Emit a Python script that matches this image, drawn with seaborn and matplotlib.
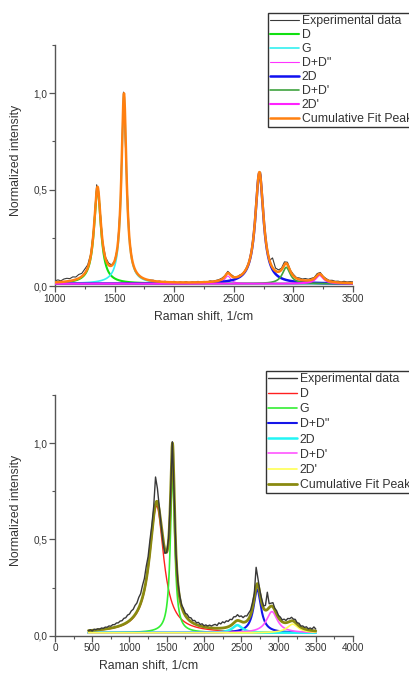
import numpy as np
import pandas as pd
import matplotlib
matplotlib.use("Agg")
import matplotlib.pyplot as plt
import seaborn as sns
from matplotlib.ticker import MultipleLocator, FuncFormatter
from matplotlib.lines import Line2D

# ---------------- data ----------------
legend_labels = ["Experimental data", "D", "G", "D+D\"", "2D", "D+D'", "2D'", "Cumulative Fit Peak"]

# top spectrum: fitted peak parameters (center, height above baseline, half width)
top_centers = [1357, 1579, 2450, 2715, 2940, 3220]
top_heights = [0.49, 0.975, 0.04, 0.575, 0.085, 0.045]
top_hwhm = [35, 25, 30, 42, 40, 40]
top_baseline = 0.012
top_x_start, top_x_end, top_x_step = 1000, 3500, 25
# experimental minus fit, read at every 25 1/cm from 1000 to 3500
top_resid = [0.008, 0.012, 0.006, 0.014, 0.016, 0.012, 0.018, 0.013, 0.020, 0.016,
             0.022, 0.015, 0.012, 0.010, 0.030, 0.010, 0.005, 0.008, 0.010, 0.004,
             0.000, -0.005, 0.000, 0.030, -0.010, 0.000, -0.005, -0.006, -0.004, -0.003,
             -0.002, 0.000, 0.002, 0.004, -0.002, 0.003, 0.000, 0.004, -0.003, 0.002,
             0.005, -0.002, 0.003, 0.000, 0.004, -0.002, 0.003, 0.001, 0.005, -0.001,
             0.004, 0.000, 0.005, 0.002, 0.004, 0.005, 0.006, 0.004, 0.008, 0.006,
             0.004, 0.000, 0.005, 0.000, 0.004, 0.000, 0.005, 0.010, 0.020, 0.030,
             0.005, -0.005, 0.000, 0.050, 0.015, 0.010, 0.008, 0.015, 0.012, 0.005,
             0.008, 0.004, 0.008, 0.006, 0.010, 0.006, 0.008, 0.005, 0.010, 0.008,
             0.004, 0.006, 0.004, 0.008, 0.005, 0.007, 0.004, 0.008, 0.005, 0.007,
             0.006]
top_colors = ["#3a3a3a", "#11e011", "#33f0f0", "#ff33ff", "#1010f0", "#3fa33f", "#ff22ff", "#ff8010"]
top_widths = [0.8, 1.5, 1.2, 0.8, 1.8, 1.2, 1.5, 1.8]

# bottom spectrum
bot_centers = [1365, 1578, 2715, 2447, 2912, 3190]
bot_heights = [0.66, 0.835, 0.226, 0.04, 0.11, 0.045]
bot_hwhm = [115, 35, 60, 80, 90, 90]
bot_baseline = 0.015
bot_x_start, bot_x_end, bot_x_step = 450, 3500, 25
bot_resid = [0.000, 0.004, -0.003, 0.005, 0.002, 0.006, 0.003, 0.008, 0.005, 0.010,
             0.008, 0.013, 0.010, 0.016, 0.014, 0.020, 0.018, 0.024, 0.022, 0.030,
             0.028, 0.036, 0.034, 0.042, 0.040, 0.048, 0.045, 0.055, 0.050, 0.062,
             0.058, 0.070, 0.055, 0.060, 0.045, 0.050, 0.140, 0.070, 0.020, -0.005,
             -0.015, -0.020, 0.000, 0.010, 0.005, 0.010, -0.010, 0.000, 0.010, 0.015,
             0.010, 0.018, 0.012, 0.020, 0.014, 0.020, 0.012, 0.018, 0.010, 0.016,
             0.008, 0.014, 0.006, 0.012, 0.008, 0.014, 0.010, 0.016, 0.020, 0.014,
             0.028, 0.022, 0.032, 0.026, 0.034, 0.028, 0.034, 0.026, 0.032, 0.024,
             0.030, 0.022, 0.030, 0.024, 0.032, 0.026, 0.030, 0.024, 0.028, 0.022,
             0.100, 0.030, 0.015, 0.020, 0.012, 0.025, 0.090, 0.020, 0.015, 0.022,
             0.010, 0.018, 0.012, 0.016, 0.010, 0.018, 0.012, 0.020, 0.014, 0.018,
             0.010, 0.016, 0.008, 0.014, 0.006, 0.012, 0.008, 0.014, 0.006, 0.012,
             0.008, 0.020, 0.010]
bot_colors = ["#383838", "#ff2020", "#33ee33", "#1515e8", "#22f5f5", "#ff55ff", "#ffff55", "#8a8a10"]
bot_widths = [1.0, 1.0, 1.2, 1.5, 1.8, 1.2, 1.2, 2.0]


def lorentz(x, c, h, g):
    return h * g ** 2 / ((x - c) ** 2 + g ** 2)


def fit_parts(x, centers, heights, hwhm, base):
    parts = [base + lorentz(x, c, h, g) for c, h, g in zip(centers, heights, hwhm)]
    cum = base + sum(lorentz(x, c, h, g) for c, h, g in zip(centers, heights, hwhm))
    return parts, cum


sns.set_style("ticks")
plt.rcParams["font.family"] = ["Liberation Sans", "DejaVu Sans"]

fig = plt.figure(figsize=(4.10, 6.73), dpi=100)
ax_top = fig.add_axes([0.134, 0.575, 0.727, 0.358])
ax_bot = fig.add_axes([0.134, 0.0554, 0.727, 0.3576])


def draw(ax, centers, heights, hwhm, base, xs0, xs1, step, resid, colors, widths,
         xlim, xlabel_xy, legend_xy, exp_on_top, lspace):
    xf = np.linspace(xs0, xs1, 2000)
    parts, cum = fit_parts(xf, centers, heights, hwhm, base)
    xe = np.arange(xs0, xs1 + 1, step)
    _, cum_e = fit_parts(xe, centers, heights, hwhm, base)
    ye = cum_e + np.array(resid)

    z_exp = 4 if exp_on_top else 2
    sns.lineplot(x=xe, y=ye, ax=ax, color=colors[0], linewidth=widths[0],
                 estimator=None, sort=False, legend=False, zorder=z_exp)
    for i, p in enumerate(parts):
        sns.lineplot(x=xf, y=p, ax=ax, color=colors[i + 1], linewidth=widths[i + 1],
                     estimator=None, sort=False, legend=False, zorder=3)
    sns.lineplot(x=xf, y=cum, ax=ax, color=colors[7], linewidth=widths[7],
                 estimator=None, sort=False, legend=False, zorder=3.5)

    ax.set_xlim(*xlim)
    ax.set_ylim(0, 1.25)
    ax.xaxis.set_major_locator(MultipleLocator(500))
    ax.xaxis.set_minor_locator(MultipleLocator(250))
    ax.yaxis.set_major_locator(MultipleLocator(0.5))
    ax.yaxis.set_minor_locator(MultipleLocator(0.25))
    ax.yaxis.set_major_formatter(FuncFormatter(lambda v, p: f"{v:.1f}".replace(".", ",")))
    ax.xaxis.set_major_formatter(FuncFormatter(lambda v, p: f"{v:.0f}"))
    for s in ["top", "right"]:
        ax.spines[s].set_visible(False)
    for s in ["left", "bottom"]:
        ax.spines[s].set_color("#555555")
        ax.spines[s].set_linewidth(1.0)
    ax.tick_params(which="major", length=4, width=0.9, color="#555555",
                   labelsize=7.2, labelcolor="#333333", pad=1.5)
    ax.tick_params(which="minor", length=2.2, width=0.8, color="#555555")
    ax.set_xlabel("Raman shift, 1/cm", fontsize=8.8, color="#333333")
    ax.set_ylabel("Normalized intensity", fontsize=8.8, color="#333333")
    ax.xaxis.set_label_coords(*xlabel_xy)
    ax.yaxis.set_label_coords(-0.112, 0.52)

    handles = [Line2D([], [], color=c, linewidth=w) for c, w in zip(colors, widths)]
    leg = ax.legend(handles, legend_labels, loc="upper left", bbox_to_anchor=legend_xy,
                    borderaxespad=0, frameon=True, fancybox=False, fontsize=8.8,
                    handlelength=2.4, handletextpad=0.2, labelspacing=lspace,
                    borderpad=0.15)
    leg.get_frame().set_edgecolor("#333333")
    leg.get_frame().set_linewidth(1.0)
    leg.get_frame().set_facecolor("white")
    leg.get_frame().set_alpha(1)
    for t in leg.get_texts():
        t.set_color("#333333")


draw(ax_top, top_centers, top_heights, top_hwhm, top_baseline,
     top_x_start, top_x_end, top_x_step, top_resid, top_colors, top_widths,
     (1000, 3500), (0.5, -0.1), (0.715, 1.133), False, 0.17)
draw(ax_bot, bot_centers, bot_heights, bot_hwhm, bot_baseline,
     bot_x_start, bot_x_end, bot_x_step, bot_resid, bot_colors, bot_widths,
     (0, 4000), (0.314, -0.097), (0.708, 1.10), True, 0.26)

fig.savefig("out.png", dpi=100)
